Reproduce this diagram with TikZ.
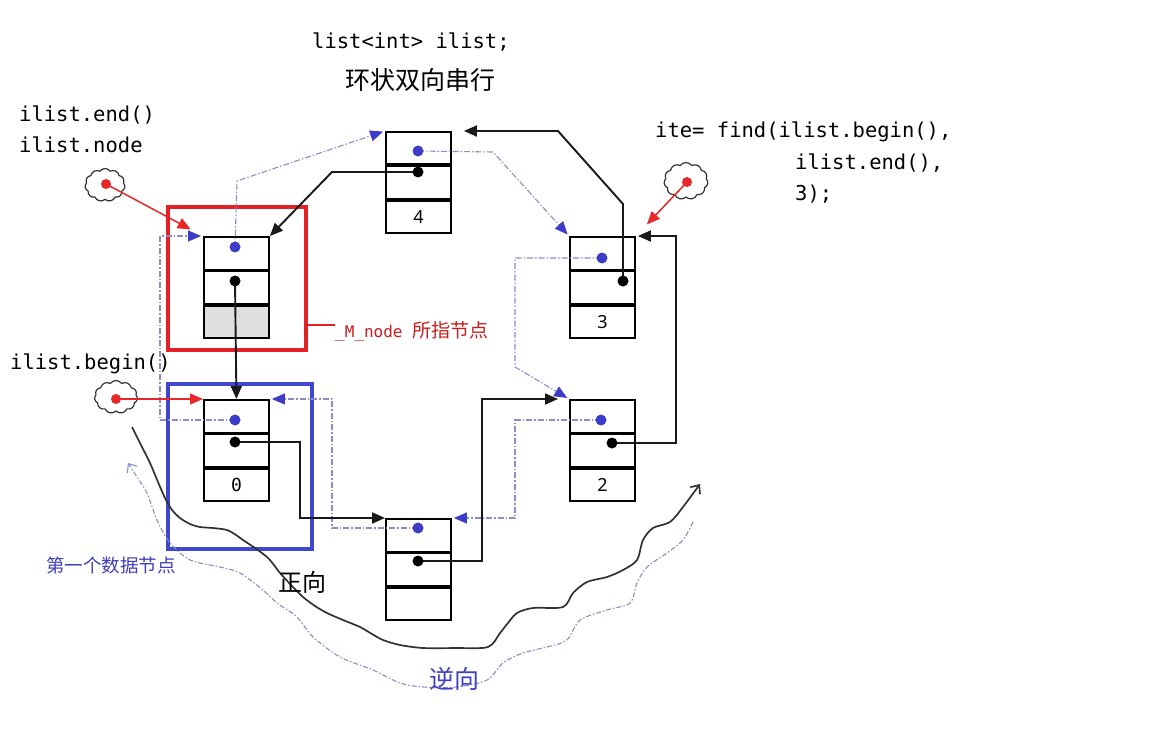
\documentclass[tikz,border=0pt]{standalone}
\usepackage{fontspec}
\setmainfont{Noto Sans}
\setmonofont{DejaVu Sans Mono}
\newfontfamily\cjk{Noto Sans CJK SC}
\usetikzlibrary{arrows.meta,shapes.symbols,calc}
\definecolor{dotblue}{RGB}{60,60,200}
\definecolor{boxblue}{RGB}{63,72,204}
\definecolor{boxred}{RGB}{226,32,38}
\definecolor{txtred}{RGB}{200,30,30}
\definecolor{txtblue}{RGB}{64,64,190}
\definecolor{dashblue}{RGB}{140,140,205}
\definecolor{arrred}{RGB}{232,40,40}
\definecolor{wavegray}{RGB}{50,50,50}
\begin{document}
\begin{tikzpicture}[x=1pt,y=-1pt,
  cell/.style={draw, line width=1.9pt, minimum width=65pt, minimum height=32.5pt,
    inner sep=0pt, anchor=north west, font=\fontsize{18}{18}\selectfont},
  bdot/.style={circle, fill=dotblue, inner sep=0pt, minimum size=11pt},
  kdot/.style={circle, fill=black, inner sep=0pt, minimum size=11pt},
  rdot/.style={circle, fill=arrred, inner sep=0pt, minimum size=10pt},
  nextline/.style={line width=1.9pt, black!90, line join=miter,
    -{Triangle[length=13pt,width=11pt]}},
  prevline/.style={line width=1.1pt, dashblue,
    dash pattern=on 6pt off 2pt on 1.5pt off 2pt,
    -{Triangle[length=13pt,width=11pt,color=dotblue]}},
  redline/.style={line width=1.5pt, arrred,
    -{Triangle[length=13pt,width=11pt]}},
  puff/.style={cloud, draw, cloud puffs=11, cloud puff arc=110, aspect=1.25,
    inner sep=0pt, line width=1.2pt, black!80},
  code/.style={inner sep=0pt, anchor=west, font=\ttfamily\fontsize{20.5}{20.5}\selectfont},
  wave/.style={line width=1.7pt, wavegray, -{Straight Barb[length=7pt,width=12pt]}},
  rwave/.style={line width=1.1pt, dashblue, dash pattern=on 5pt off 2pt on 1.5pt off 2pt,
    -{Straight Barb[length=7pt,width=12pt]}}
]
\path[fill=white] (0,0) rectangle (1149,733);
\useasboundingbox (0,0) rectangle (1149,733);

% highlight boxes
\node[draw=boxred, line width=3.5pt, minimum width=138pt, minimum height=143pt, inner sep=0pt] (mbox) at (237,278.5) {};
\node[draw=boxblue, line width=3.5pt, minimum width=144pt, minimum height=165pt, inner sep=0pt] (fbox) at (240,466.5) {};

% list nodes: E (end), F (4), H (3), Z (0), T (2), O (1)
\node[cell] (E1) at (203,236) {};
\node[cell] (E2) at (E1.south west) {};
\node[cell, fill=gray!25] (E3) at (E2.south west) {};

\node[cell] (F1) at (385,131) {};
\node[cell] (F2) at (F1.south west) {};
\node[cell] (F3) at (F2.south west) {4};

\node[cell] (H1) at (569,236) {};
\node[cell] (H2) at (H1.south west) {};
\node[cell] (H3) at (H2.south west) {3};

\node[cell] (Z1) at (203,399) {};
\node[cell] (Z2) at (Z1.south west) {};
\node[cell, font=\ttfamily\fontsize{18}{18}\selectfont] (Z3) at (Z2.south west) {0};

\node[cell] (T1) at (569,399) {};
\node[cell] (T2) at (T1.south west) {};
\node[cell] (T3) at (T2.south west) {2};

\node[cell] (O1) at (385,518) {};
\node[cell] (O2) at (O1.south west) {};
\node[cell] (O3) at (O2.south west) {};

% dot positions
\coordinate (Ep) at (235,247); \coordinate (En) at (235,281);
\coordinate (Fp) at (418,151); \coordinate (Fn) at (418,172);
\coordinate (Hp) at (602,258); \coordinate (Hn) at (623,281);
\coordinate (Zp) at (235,420); \coordinate (Zn) at (235,442);
\coordinate (Tp) at (601,420); \coordinate (Tn) at (612,443);
\coordinate (Op) at (418,528); \coordinate (On) at (418,561);

% prev pointers (dashed blue)
\draw[prevline, shorten >=2pt] (Ep) -- (237,181) -- (F1.north west);
\draw[prevline, shorten >=2pt] (Fp) -- (493,152) -- (H1.north west);
\draw[prevline, shorten >=2pt] (Hp) -- (515,258) -- (515,367) -- (T1.north west);
\draw[prevline, shorten >=2pt] (Tp) -- (515,420) -- (515,518) -- (O1.north east);
\draw[prevline, shorten >=2pt] (Op) -- (332,528) -- (332,399) -- (Z1.north east);
\draw[prevline, shorten >=2pt] (Zp) -- (160,420) -- (160,236) -- (E1.north west);

% next pointers (black)
\draw[nextline] (En) -- (Z1.north);
\draw[nextline] (Zn) -- (300,442) -- (300,518) -- (O1.north west);
\draw[nextline, shorten >=11pt] (On) -- (482,561) -- (482,399) -- (T1.north west);
\draw[nextline, shorten >=2pt] (Tn) -- (676,443) -- (676,236) -- (H1.north east);
\draw[nextline, shorten >=12pt] (Hn) -- (623,204) -- (558,131) -- (F1.north east);
\draw[nextline] (Fn) -- (332,172) -- (E1.north east);

% dots
\foreach \d in {Ep,Fp,Hp,Zp,Tp,Op} \node[bdot] at (\d) {};
\foreach \d in {En,Fn,Hn,Zn,Tn,On} \node[kdot] at (\d) {};

% iterators (clouds)
\node[puff, minimum width=40pt, minimum height=33pt] (c1) at (105,185) {};
\node[puff, minimum width=43pt, minimum height=33pt] (c2) at (116,397) {};
\node[puff, minimum width=44pt, minimum height=37pt] (c3) at (686,181) {};
\node[rdot] (r1) at (106,184) {};
\node[rdot] (r2) at (116,399) {};
\node[rdot] (r3) at (687,182) {};
\draw[redline, shorten >=14pt] (r1.center) -- (E1.north west);
\draw[redline] (r2.center) -- (Z1.north west);
\draw[redline, shorten >=16pt] (r3.center) -- (H1.north east);

% texts
\node[code] (tlist) at (312,42) {list<int> ilist;};
\node[inner sep=0pt, font=\cjk\fontsize{25}{25}\selectfont] (ttitle) at (420,80) {环状双向串行};
\node[code] (tend) at (19,115) {ilist.end()};
\node[code] (tnode) at (19,145) {ilist.node};
\node[code] (tbeg) at (10,364) {ilist.begin()};
\node[code] (tf1) at (655,132) {ite= find(ilist.begin(),};
\node[code] (tf2) at (795,163) {ilist.end(),};
\node[code] (tf3) at (795,194) {3);};

\coordinate (lblline) at (335,325);
\node[inner sep=0pt, anchor=west, text=txtred] (lbl) at (335,331)
  {\ttfamily\fontsize{16}{16}\selectfont \_M\_node\ \cjk\fontsize{19}{19}\selectfont 所指节点};
\draw[boxred, line width=1.2pt] (mbox.east |- lblline) -- (lblline);

\node[inner sep=0pt, text=txtblue, font=\cjk\fontsize{18.5}{18.5}\selectfont] (tfirst) at (111,565) {第一个数据节点};

% direction curves
\draw[rwave] plot[smooth, tension=0.5] coordinates {(693,522) (683,540) (667,553) (647,567) (637,583) (630,603) (607,610) (580,620) (567,640) (547,647) (523,653) (503,663) (487,680) (457,687) (423,687) (400,683) (373,670) (340,657) (313,637) (297,617) (277,603) (263,590) (240,573) (220,567) (190,560) (170,543) (157,520) (147,493) (137,477) (128,463)};
\draw[wave] plot[smooth, tension=0.5] coordinates {(132,427) (141,445) (150,463) (158,482) (165,498) (172,510) (180,518) (190,524) (200,527) (213,528) (227,530) (236,535) (243,540) (255,548) (267,557) (274,565) (280,573) (292,586) (303,597) (315,606) (327,613) (343,620) (360,627) (372,634) (383,640) (400,645) (423,648) (455,648) (488,647) (500,633) (508,623) (517,613) (533,608) (563,607) (573,593) (587,582) (607,577) (623,570) (637,560) (643,540) (653,528) (670,522) (683,507) (700,484)};

\node[inner sep=0pt, font=\cjk\fontsize{24}{24}\selectfont] (tfwd) at (302,582) {正向};
\node[inner sep=0pt, text=txtblue, font=\cjk\fontsize{25}{25}\selectfont] (tbwd) at (454,679) {逆向};
\end{tikzpicture}
\end{document}
